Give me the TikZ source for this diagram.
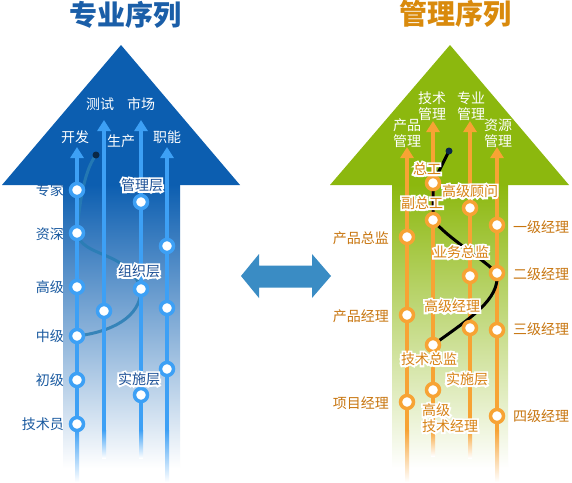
\documentclass[tikz,border=0pt]{standalone}
\usepackage{fontspec}
\newfontfamily\cjk{Noto Sans CJK SC}
\newfontfamily\cjkhalo[FakeBold=26]{Noto Sans CJK SC}
\usetikzlibrary{arrows.meta}
\definecolor{lhead}{RGB}{12,94,176}
\definecolor{lline}{RGB}{61,160,245}
\definecolor{ltitle}{RGB}{26,94,168}
\definecolor{ltext}{RGB}{26,90,160}
\definecolor{linner}{RGB}{28,80,150}
\definecolor{lcurve}{RGB}{40,125,180}
\definecolor{rhead}{RGB}{140,184,14}
\definecolor{rline}{RGB}{247,163,52}
\definecolor{rtitle}{RGB}{217,138,12}
\definecolor{rtext}{RGB}{200,118,16}
\definecolor{rinner}{RGB}{215,130,20}
\definecolor{midarrow}{RGB}{58,140,196}
\definecolor{dotc}{RGB}{10,40,70}
\newcommand\halo[2]{\leavevmode\rlap{\color{white}\cjkhalo #2}{\color{#1}#2}}
\pgfdeclarelayer{bgl}
\pgfdeclarelayer{lcl}
\pgfdeclarelayer{lnl}
\pgfdeclarelayer{rcl}
\pgfsetlayers{bgl,lcl,lnl,rcl,main}
\begin{document}
\begin{tikzpicture}[x=1pt,y=-1pt,
  lab/.style={font=\cjk\fontsize{14}{13}\selectfont, inner sep=0pt},
  titlelab/.style={font=\cjk\bfseries\fontsize{28}{30}\selectfont, inner sep=0pt},
  lcirc/.style={circle, draw=lline, line width=3.5pt, fill=white, minimum size=13pt, inner sep=0pt},
  rcirc/.style={circle, draw=rline, line width=3.5pt, fill=white, minimum size=13pt, inner sep=0pt},
  dotn/.style={circle, fill=dotc, minimum size=7pt, inner sep=0pt},
  lln/.style={draw=lline, line width=4pt, -{Triangle[width=13pt,length=11pt]}},
  rln/.style={draw=rline, line width=4pt, -{Triangle[width=13pt,length=11pt]}}]
\useasboundingbox (0,0) rectangle (572,482);
\begin{pgfonlayer}{bgl}
\fill[white] (0,0) rectangle (572,482);
% left arrow
\fill[lhead] (121,45) -- (240,185) -- (2,185) -- cycle;
\shade[top color=lhead, bottom color=white] (63,184.5) rectangle (180,468);
% right arrow
\fill[rhead] (450,45) -- (569,185) -- (330,185) -- cycle;
\shade[top color=rhead, bottom color=white] (392,184.5) rectangle (508,468);
% middle double arrow
\fill[midarrow] (241,276) -- (259,254) -- (259,265.5) -- (312,265.5) -- (312,254) -- (331,276)
  -- (312,298) -- (312,287.5) -- (259,287.5) -- (259,298) -- cycle;
\end{pgfonlayer}

% titles
\node[titlelab, text=ltitle] (tl) at (125,15) {专业序列};
\node[titlelab, text=rtitle] (tr) at (455,14) {管理序列};

% ---------- left lines ----------
\begin{pgfonlayer}{lnl}
\draw[lln] (77,430) -- (77,147);
\shade[top color=lline, bottom color=white] (75,430) rectangle (79,482);
\draw[lln] (104,430) -- (104,120);
\shade[top color=lline, bottom color=white] (102,430) rectangle (106,458);
\draw[lln] (141,430) -- (141,120);
\shade[top color=lline, bottom color=white] (139,430) rectangle (143,458);
\draw[lln] (167,430) -- (167,147);
\shade[top color=lline, bottom color=white] (165,430) rectangle (169,482);
% right lines
\draw[rln] (407,430) -- (407,147);
\shade[top color=rline, bottom color=white] (405,430) rectangle (409,482);
\draw[rln] (433,430) -- (433,121);
\shade[top color=rline, bottom color=white] (431,430) rectangle (435,456);
\draw[rln] (470,430) -- (470,121);
\shade[top color=rline, bottom color=white] (468,430) rectangle (472,458);
\draw[rln] (497,430) -- (497,147);
\shade[top color=rline, bottom color=white] (495,430) rectangle (499,482);
\end{pgfonlayer}

% top labels left
\node[lab, text=white] (h1) at (75,137) {开发};
\node[lab, text=white] (h2) at (100,104) {测试};
\node[lab, text=white] (h3) at (141,104) {市场};
\node[lab, text=white] (h4) at (121,141) {生产};
\node[lab, text=white] (h5) at (167,137) {职能};
% top labels right
\node[lab, text=white] (g1) at (407,133) {\shortstack{产品\\管理}};
\node[lab, text=white] (g2) at (432,106) {\shortstack{技术\\管理}};
\node[lab, text=white] (g3) at (471,106) {\shortstack{专业\\管理}};
\node[lab, text=white] (g4) at (498,133) {\shortstack{资源\\管理}};

% left circles
\node[lcirc] (k1) at (77,190) {};
\node[lcirc] (k2) at (77,233) {};
\node[lcirc] (k3) at (77,287) {};
\node[lcirc] (k4) at (77,336) {};
\node[lcirc] (k5) at (77,380) {};
\node[lcirc] (k6) at (77,424) {};
\node[lcirc] (c1) at (104,311) {};
\node[lcirc] (m1) at (141,202) {};
\node[lcirc] (m2) at (141,289) {};
\node[lcirc] (m3) at (141,395) {};
\node[lcirc] (f1) at (167,246) {};
\node[lcirc] (f2) at (167,308) {};
\node[lcirc] (f3) at (167,369) {};
\node[dotn] (ldot) at (96,155) {};

% right circles
\node[rcirc] (p1) at (407,237) {};
\node[rcirc] (p2) at (407,315) {};
\node[rcirc] (p3) at (407,402) {};
\node[rcirc] (t1) at (433,183) {};
\node[rcirc] (t2) at (433,220) {};
\node[rcirc] (t3) at (433,345) {};
\node[rcirc] (t4) at (433,390) {};
\node[rcirc] (z1) at (470,208) {};
\node[rcirc] (z2) at (470,276) {};
\node[rcirc] (z3) at (470,328) {};
\node[rcirc] (r1) at (497,225) {};
\node[rcirc] (r2) at (497,273) {};
\node[rcirc] (r3) at (497,330) {};
\node[rcirc] (r4) at (497,416) {};
\node[dotn] (rdot) at (449,151) {};

% curves
\begin{pgfonlayer}{lcl}
\draw[lcurve, opacity=.85, line width=3pt] (ldot.center) .. controls (86,168) and (80,195) .. (k2.center)
  .. controls (82,258) and (128,250) .. (m2.center)
  .. controls (141,318) and (110,332) .. (k4.center);
\end{pgfonlayer}
\begin{pgfonlayer}{rcl}
\draw[black, line width=3pt] (rdot.center) -- (t1.center) -- (t2.center)
  .. controls (450,240) and (478,255) .. (r2.center)
  .. controls (500,300) and (470,318) .. (t3.center);
\end{pgfonlayer}

% left outer labels
\node[lab, text=ltext, anchor=east] (a1) at (64,190) {专家};
\node[lab, text=ltext, anchor=east] (a2) at (64,234) {资深};
\node[lab, text=ltext, anchor=east] (a3) at (64,287) {高级};
\node[lab, text=ltext, anchor=east] (a4) at (64,336) {中级};
\node[lab, text=ltext, anchor=east] (a5) at (64,380) {初级};
\node[lab, text=ltext, anchor=east] (a6) at (64,424) {技术员};
% left inner labels
\node[lab] (b1) at (142,185) {\halo{linner}{管理层}};
\node[lab] (b2) at (139,271) {\halo{linner}{组织层}};
\node[lab] (b3) at (139,379) {\halo{linner}{实施层}};

% right outer labels
\node[lab, text=rtext, anchor=east] (o1) at (389,238) {产品总监};
\node[lab, text=rtext, anchor=east] (o2) at (389,316) {产品经理};
\node[lab, text=rtext, anchor=east] (o3) at (389,403) {项目经理};
\node[lab, text=rtext, anchor=west] (o4) at (513,227) {一级经理};
\node[lab, text=rtext, anchor=west] (o5) at (513,274) {二级经理};
\node[lab, text=rtext, anchor=west] (o6) at (513,329) {三级经理};
\node[lab, text=rtext, anchor=west] (o7) at (513,416) {四级经理};
% right inner labels
\node[lab] (i1) at (427,169) {\halo{rinner}{总工}};
\node[lab] (i2) at (470,191) {\halo{rinner}{高级顾问}};
\node[lab] (i3) at (422,203) {\halo{rinner}{副总工}};
\node[lab] (i4) at (461,252) {\halo{rinner}{业务总监}};
\node[lab] (i5) at (452,306) {\halo{rinner}{高级经理}};
\node[lab] (i6) at (429,359) {\halo{rinner}{技术总监}};
\node[lab] (i7) at (467,379) {\halo{rinner}{实施层}};
\node[lab, anchor=west] (i8) at (422,418) {\halo{rinner}{\shortstack[l]{高级\\技术经理}}};
\end{tikzpicture}
\end{document}
